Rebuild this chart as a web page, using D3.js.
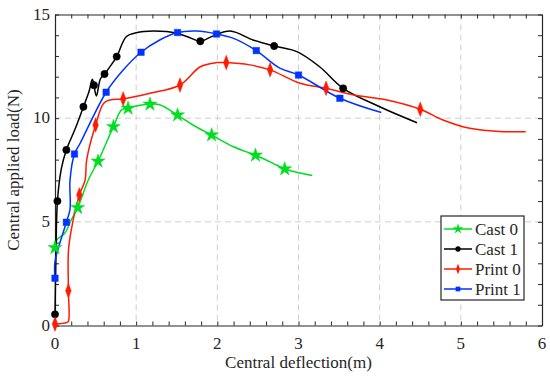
<!DOCTYPE html>
<html>
<head>
<meta charset="utf-8">
<script src="https://cdn.jsdelivr.net/npm/d3@7"></script>
<style>
  body { margin: 0; background: #fff; }
  svg text { font-family: "Liberation Serif", "Times New Roman", serif; fill: #262626; }
</style>
</head>
<body>
<svg id="chart" width="550" height="379"></svg>
<script>
// series names and colours
var names = ["Cast 0", "Cast 1", "Print 0", "Print 1"];
var colors = ["#00dd22", "#000000", "#ff1a00", "#0033ff"];
var symbols = [d3.symbolStar, d3.symbolCircle, d3.symbolDiamond, d3.symbolSquare];

// curve points [deflection, load]
var cast0 = [[0,3.75],[0.02,4.12],[0.12,4.45],[0.2,5.09],[0.28,5.68],[0.41,7.02],[0.53,7.92],
  [0.72,9.59],[0.82,10.4],[0.9,10.48],[1.05,10.62],[1.17,10.67],[1.29,10.65],[1.51,10.15],
  [1.7,9.67],[1.93,9.19],[2.2,8.62],[2.47,8.21],[2.73,7.74],[2.83,7.55],[3.17,7.23]];
var cast1 = [[0,0.54],[0.01,3.0],[0.03,6.0],[0.08,7.6],[0.14,8.47],[0.25,9.5],[0.35,10.55],
  [0.42,11.3],[0.46,11.88],[0.48,11.59],[0.51,11.07],[0.56,11.9],[0.61,12.13],[0.68,12.5],
  [0.76,12.97],[0.88,13.94],[1.0,14.12],[1.21,14.2],[1.5,14.1],[1.68,13.85],[1.79,13.71],
  [1.95,13.97],[2.16,14.2],[2.44,13.77],[2.7,13.48],[2.98,13.21],[3.26,12.48],[3.55,11.44],
  [4.0,10.55],[4.46,9.78]];
var print0 = [[0,0.07],[0.14,0.14],[0.165,0.2],[0.165,1.68],[0.165,3.56],[0.2,4.6],[0.3,6.3],
  [0.37,7.0],[0.39,7.98],[0.5,9.67],[0.6,10.72],[0.68,10.88],[0.84,10.93],[1.17,11.2],
  [1.54,11.6],[1.79,12.48],[1.99,12.68],[2.11,12.68],[2.4,12.57],[2.65,12.33],[3.02,11.68],
  [3.34,11.44],[3.68,11.12],[4.09,10.88],[4.5,10.43],[4.78,9.91],[5.11,9.51],[5.52,9.35],[5.8,9.35]];
var print1 = [[0,2.28],[0,3.08],[0.14,4.98],[0.185,5.6],[0.185,7.0],[0.24,8.27],[0.31,8.79],
  [0.63,11.25],[0.84,12.32],[1.06,13.18],[1.29,13.77],[1.51,14.13],[1.75,14.2],[1.99,14.06],
  [2.2,13.85],[2.48,13.26],[2.77,12.41],[3.0,12.08],[3.51,10.96],[4.02,10.27]];

// marker positions
var cast0Marks = [[0,3.75],[0.28,5.68],[0.53,7.92],[0.72,9.59],[0.9,10.48],[1.17,10.67],
  [1.51,10.15],[1.93,9.19],[2.47,8.21],[2.83,7.55]];
var cast1Marks = [[0,0.54],[0.03,6.0],[0.14,8.47],[0.35,10.55],[0.48,11.59],[0.61,12.13],
  [0.76,12.97],[1.79,13.71],[2.7,13.48],[3.55,11.44]];
var print0Marks = [[0,0.07],[0.165,1.68],[0.3,6.3],[0.5,9.67],[0.84,10.93],[1.54,11.6],
  [2.11,12.68],[2.65,12.33],[3.34,11.44],[4.5,10.43]];
var print1Marks = [[0,2.28],[0.14,4.98],[0.24,8.27],[0.63,11.25],[1.06,13.18],[1.51,14.13],
  [1.99,14.06],[2.48,13.26],[3.0,12.08],[3.51,10.96]];

var lines = [cast0, cast1, print0, print1];
var marks = [cast0Marks, cast1Marks, print0Marks, print1Marks];

var xTicks = [0, 1, 2, 3, 4, 5, 6];
var yTicks = [0, 5, 10, 15];
var xLabel = "Central deflection(m)";
var yLabel = "Central applied load(N)";

var svg = d3.select("#chart");
var pLeft = 55, pRight = 542, pTop = 14.5, pBottom = 325.5;

var x = d3.scaleLinear().domain([0, 6]).range([pLeft, pRight]);
var y = d3.scaleLinear().domain([0, 15]).range([pBottom, pTop]);

// dashed grid
var grid = svg.append("g").attr("stroke", "#cfcfcf").attr("stroke-dasharray", "6,4").attr("stroke-width", 1);
xTicks.slice(1, -1).forEach(function(t) {
  grid.append("line").attr("x1", x(t)).attr("x2", x(t)).attr("y1", pTop).attr("y2", pBottom);
});
yTicks.slice(1, -1).forEach(function(t) {
  grid.append("line").attr("y1", y(t)).attr("y2", y(t)).attr("x1", pLeft).attr("x2", pRight);
});

// axes (ticks inside, box all round)
var minorX = d3.range(0, 6.001, 0.2);
var minorY = d3.range(0, 15.001, 1);
svg.append("g").attr("transform", "translate(0," + pBottom + ")")
  .call(d3.axisBottom(x).tickValues(minorX).tickSize(-4).tickSizeOuter(0).tickFormat(""));
svg.append("g").attr("transform", "translate(0," + pTop + ")")
  .call(d3.axisTop(x).tickValues(minorX).tickSize(-4).tickSizeOuter(0).tickFormat(""));
svg.append("g").attr("transform", "translate(" + pLeft + ",0)")
  .call(d3.axisLeft(y).tickValues(minorY).tickSize(-4).tickSizeOuter(0).tickFormat(""));
svg.append("g").attr("transform", "translate(" + pRight + ",0)")
  .call(d3.axisRight(y).tickValues(minorY).tickSize(-4).tickSizeOuter(0).tickFormat(""));
svg.selectAll(".domain").attr("stroke", "#262626").attr("stroke-width", 1.2);
svg.selectAll(".tick line").attr("stroke", "#262626");

// tick labels
svg.append("g").selectAll("text").data(xTicks).join("text")
  .attr("x", function(d) { return x(d); }).attr("y", pBottom + 23)
  .attr("text-anchor", "middle").attr("font-size", 17).text(function(d) { return d; });
svg.append("g").selectAll("text").data(yTicks).join("text")
  .attr("x", pLeft - 5).attr("y", function(d) { return y(d) + 5; })
  .attr("text-anchor", "end").attr("font-size", 17).text(function(d) { return d; });

svg.append("text").attr("x", (pLeft + pRight) / 2).attr("y", 368)
  .attr("text-anchor", "middle").attr("font-size", 17).text(xLabel);
svg.append("text").attr("transform", "translate(19," + ((pTop + pBottom) / 2) + ") rotate(-90)")
  .attr("text-anchor", "middle").attr("font-size", 17).text(yLabel);

// curves
var lineGen = d3.line()
  .x(function(d) { return x(d[0]); })
  .y(function(d) { return y(d[1]); })
  .curve(d3.curveCatmullRom.alpha(0.5));

lines.forEach(function(pts, i) {
  svg.append("path").attr("d", lineGen(pts))
    .attr("fill", "none").attr("stroke", colors[i]).attr("stroke-width", 1.5);
});
marks.forEach(function(pts, i) {
  var sym = d3.symbol().type(symbols[i]).size(i === 0 ? 60 : 42);
  svg.append("g").selectAll("path").data(pts).join("path")
    .attr("transform", function(d) { return "translate(" + x(d[0]) + "," + y(d[1]) + ")" + (i === 2 ? " scale(0.8,1.2)" : ""); })
    .attr("d", sym).attr("fill", colors[i]).attr("stroke", colors[i]).attr("stroke-width", 0.5);
});

// legend
var lg = svg.append("g").attr("transform", "translate(441,216)");
lg.append("rect").attr("width", 83).attr("height", 84)
  .attr("fill", "#fff").attr("stroke", "#262626").attr("stroke-width", 1.2);
names.forEach(function(n, i) {
  var yy = 13 + i * 20;
  lg.append("line").attr("x1", 3).attr("x2", 31).attr("y1", yy).attr("y2", yy)
    .attr("stroke", colors[i]).attr("stroke-width", 1.5);
  lg.append("path").attr("transform", "translate(17," + yy + ")" + (i === 2 ? " scale(0.8,1.2)" : ""))
    .attr("d", d3.symbol().type(symbols[i]).size(i === 0 ? 34 : 22))
    .attr("fill", colors[i]);
  lg.append("text").attr("x", 34).attr("y", yy + 6).attr("font-size", 17).text(n);
});
</script>
</body>
</html>
